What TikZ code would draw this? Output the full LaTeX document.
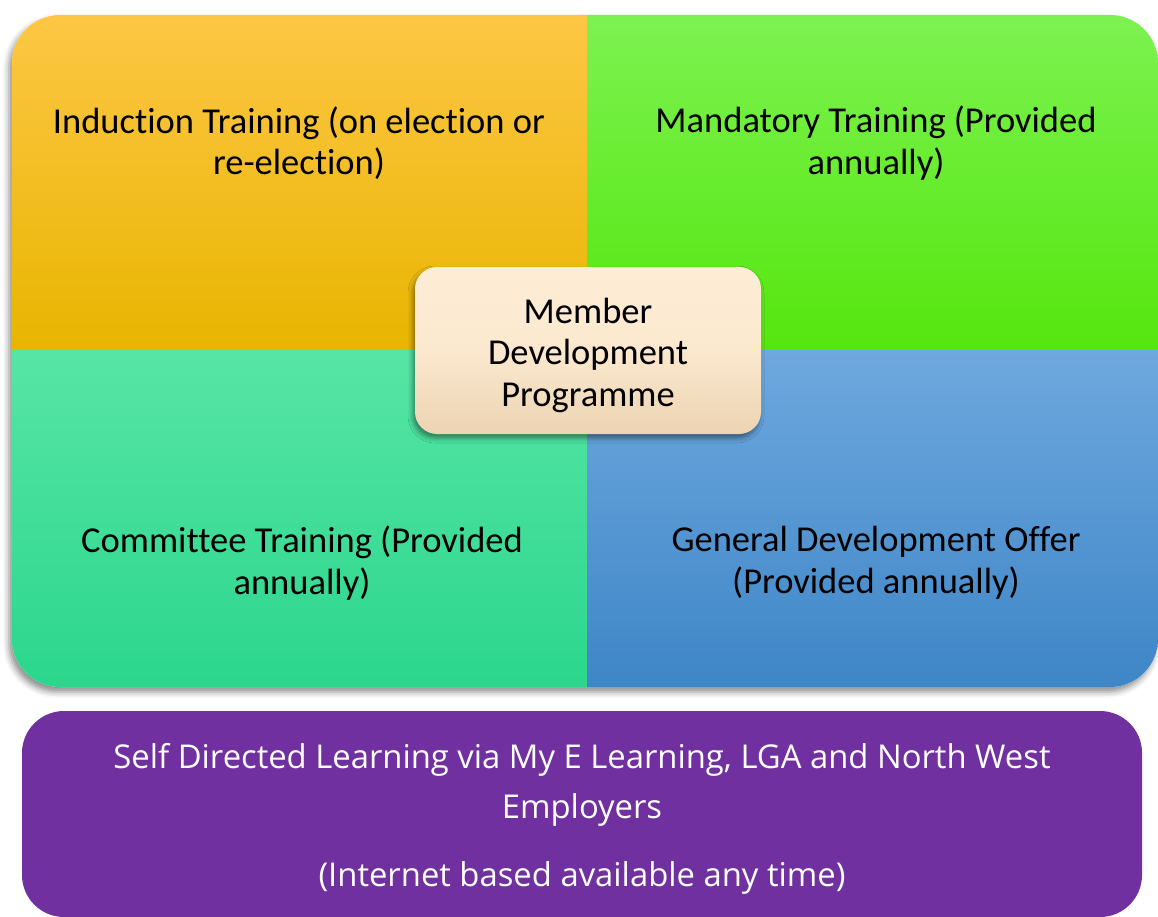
\documentclass[tikz,border=0pt]{standalone}
\usepackage{fontspec}
\setmainfont{Carlito}[Ligatures=NoCommon]
\newfontfamily\purplefont{Open Sans}
\usetikzlibrary{shadows.blur}
\definecolor{orTop}{HTML}{FDC745}
\definecolor{orBot}{HTML}{E8B500}
\definecolor{grTop}{HTML}{7CF250}
\definecolor{grBot}{HTML}{55E60E}
\definecolor{tlTop}{HTML}{57E5A5}
\definecolor{tlBot}{HTML}{2BD68D}
\definecolor{blTop}{HTML}{6EA8DE}
\definecolor{blBot}{HTML}{3E86C7}
\definecolor{cbTop}{HTML}{FEEDD6}
\definecolor{cbBot}{HTML}{EDD4B2}
\definecolor{purp}{HTML}{7030A0}
\tikzset{
  qtext/.style={align=center, text=black, font=\fontsize{36.5}{41.5}\selectfont},
  ptext/.style={align=center, text=white, font=\purplefont\fontsize{32.8}{50}\selectfont},
}
\begin{document}
\begin{tikzpicture}[x=1pt,y=-1pt]
\useasboundingbox (0,0) rectangle (1158,917);
% shadow of quadrant block
\fill[white, rounded corners=48, blur shadow={shadow xshift=-3pt, shadow yshift=-5pt, shadow blur radius=6pt, shadow opacity=45}] (12,15) rectangle (1158,687);
\begin{scope}
  \clip[rounded corners=48] (12,15) rectangle (1158,687);
  \shade[top color=orTop, bottom color=orBot] (12,15) rectangle (587,350);
  \shade[top color=grTop, bottom color=grBot] (587,15) rectangle (1160,350);
  \shade[top color=tlTop, bottom color=tlBot] (12,350) rectangle (587,687);
  \shade[top color=blTop, bottom color=blBot] (587,350) rectangle (1160,687);
\end{scope}
\node[qtext] (induct) at (299,143) {Induction Training (on election or\\re-election)};
\node[qtext] (mandat) at (876,143) {Mandatory Training (Provided\\annually)};
\node[qtext] (committee) at (302,563) {Committee Training (Provided\\annually)};
\node[qtext] (general) at (876,563) {General Development Offer\\(Provided annually)};
% centre box
\shade[rounded corners=22, top color=cbTop, bottom color=cbBot, middle color=cbTop!80!cbBot,
  blur shadow={shadow xshift=-2pt, shadow yshift=-4pt, shadow blur radius=5pt, shadow opacity=45}]
  (415,267) rectangle (761,434);
\node[qtext] (mdp) at (588,355) {Member\\Development\\Programme};
% purple box
\fill[purp, rounded corners=42] (22,711) rectangle (1142,917);
\node[ptext] (self) at (582,785) {Self Directed Learning via My E Learning, LGA and North West\\Employers};
\node[ptext] (internet) at (582,878) {(Internet based available any time)};
\end{tikzpicture}
\end{document}
